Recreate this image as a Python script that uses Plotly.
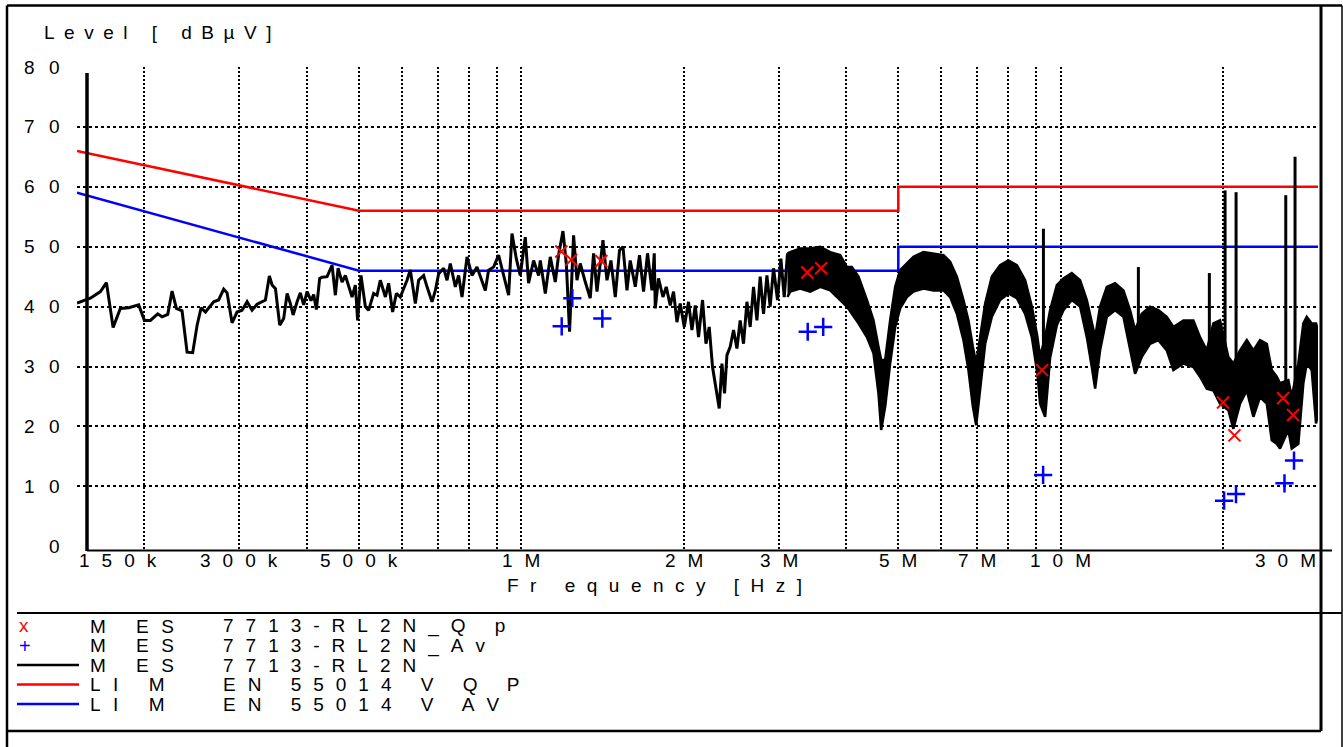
import math
import plotly.graph_objects as go

# ---------------- data (frequency in MHz, level in dBuV) ----------------
scan_f = [0.1500, 0.1588, 0.1658, 0.1701, 0.1750, 0.1805, 0.1871, 0.1952, 0.2000, 0.2052,
          0.2117, 0.2157, 0.2210, 0.2251, 0.2293, 0.2349, 0.2400, 0.2458, 0.2505, 0.2548,
          0.2596, 0.2689, 0.2746, 0.2806, 0.2847, 0.2908, 0.2971, 0.3035, 0.3101, 0.3167,
          0.3236, 0.3305, 0.3353, 0.3410, 0.3450, 0.3500, 0.3564, 0.3625, 0.3679, 0.3730,
          0.3774, 0.3839, 0.3892, 0.3948, 0.4006, 0.4074, 0.4120, 0.4168, 0.4227, 0.4270,
          0.4363, 0.4457, 0.4520, 0.4573, 0.4651, 0.4717, 0.4784, 0.4854, 0.4923, 0.4971,
          0.5043, 0.5138, 0.5210, 0.5323, 0.5400, 0.5476, 0.5596, 0.5674, 0.5772, 0.5864,
          0.5964, 0.6050, 0.6138, 0.6224, 0.6360, 0.6449, 0.6589, 0.6685, 0.6829, 0.6927,
          0.7025, 0.7177, 0.7281, 0.7383, 0.7544, 0.7650, 0.7762, 0.7930, 0.8100, 0.8275,
          0.8391, 0.8574, 0.8695, 0.8883, 0.9074, 0.9271, 0.9470, 0.9608, 0.9787, 0.9953,
          1.0170, 1.0313, 1.0537, 1.0764, 1.0841, 1.1077, 1.1313, 1.1560, 1.1722, 1.1945,
          1.2115, 1.2285, 1.2498, 1.2681, 1.2858, 1.3139, 1.3419, 1.3612, 1.3811, 1.4169,
          1.4413, 1.4659, 1.4933, 1.5207, 1.5432, 1.5698, 1.5917, 1.6264, 1.6561, 1.6850,
          1.7140, 1.7463, 1.7637, 1.7713, 1.7962, 1.8303, 1.8564, 1.8880, 1.9152, 1.9431,
          1.9703, 2.0047, 2.0416, 2.0715, 2.1011, 2.1307, 2.1675, 2.1994, 2.2302, 2.2620,
          2.2952, 2.3274, 2.3544, 2.3809, 2.4054, 2.4390, 2.4741, 2.5102, 2.5453, 2.5819,
          2.6197, 2.6563, 2.6945, 2.7339, 2.7722, 2.8121, 2.8531, 2.8929, 2.9346, 2.9851,
          3.0284, 3.0718, 3.1152]
scan_lv = [40.6, 41.4, 42.5, 44.0, 36.5, 39.7, 39.8, 40.3, 37.7, 37.7,
           38.8, 38.3, 38.7, 42.6, 39.7, 39.3, 32.4, 32.3, 36.9, 39.8,
           39.1, 40.8, 41.1, 42.9, 42.3, 37.3, 39.1, 39.4, 40.8, 39.4,
           40.4, 40.8, 41.1, 45.1, 43.6, 43.0, 36.9, 38.0, 42.2, 40.5,
           38.6, 40.8, 42.3, 40.3, 42.5, 41.0, 42.0, 39.5, 44.7, 44.9,
           45.0, 46.9, 41.9, 46.4, 44.1, 45.2, 43.3, 41.6, 43.6, 37.7,
           45.2, 40.0, 39.4, 42.2, 41.9, 44.4, 41.6, 43.9, 39.1, 42.2,
           41.6, 43.0, 44.4, 46.1, 40.5, 44.4, 45.2, 43.3, 40.8, 42.7,
           45.5, 46.4, 44.4, 47.2, 43.3, 45.2, 41.6, 48.3, 45.2, 46.6,
           45.2, 42.7, 46.1, 46.6, 48.6, 45.0, 41.9, 52.2, 48.0, 45.2,
           51.6, 43.9, 47.7, 45.2, 47.7, 42.2, 48.3, 44.1, 48.6, 52.6,
           47.2, 35.8, 51.9, 44.4, 47.2, 44.1, 41.4, 48.9, 42.5, 51.1,
           44.4, 47.7, 41.6, 49.4, 50.0, 42.7, 47.7, 43.3, 48.6, 42.5,
           48.9, 42.7, 48.9, 39.7, 44.7, 41.6, 43.3, 40.2, 42.5, 37.4,
           40.5, 36.6, 40.8, 36.1, 40.2, 34.9, 41.1, 33.8, 36.6, 29.9,
           26.0, 23.0, 30.5, 25.5, 31.9, 33.3, 36.1, 33.0, 37.7, 33.8,
           40.8, 36.6, 43.3, 37.7, 45.0, 38.8, 45.2, 40.0, 46.4, 41.1,
           48.0, 41.6, 48.9]

band_f = [3.1152, 3.1507, 3.2882, 3.4319, 3.5813, 3.7375, 3.9003, 4.0143, 4.1006, 4.2178,
          4.3720, 4.4970, 4.5936, 4.6467, 4.7274, 4.8282, 4.9336, 5.0389, 5.1860, 5.3341,
          5.5666, 5.8092, 6.0627, 6.2374, 6.4196, 6.6031, 6.7453, 6.8737, 6.9714, 7.0899,
          7.2445, 7.4536, 7.7209, 8.0004, 8.2933, 8.5924, 8.8407, 9.0550, 9.1582, 9.3580,
          9.5577, 9.8369, 10.118, 10.487, 10.864, 11.181, 11.421, 11.585, 11.832, 12.177,
          12.616, 13.071, 13.447, 13.741, 14.138, 14.646, 15.176, 15.731, 16.181, 16.886,
          17.622, 18.129, 18.659, 19.192, 19.745, 20.460, 20.903, 21.507, 22.135, 22.767,
          23.422, 24.106, 24.623, 25.156, 25.508, 26.431, 26.817, 27.583, 28.180, 28.592,
          29.206, 29.748, 30.0]
band_top = [48.9, 49.1, 49.7, 49.7, 50.0, 49.1, 48.6, 46.6, 46.6, 45.0,
            41.1, 37.7, 33.3, 31.1, 31.1, 37.7, 43.3, 46.1, 47.2, 48.3,
            49.1, 48.9, 48.6, 47.5, 45.0, 41.1, 37.7, 33.3, 30.5, 34.9,
            40.5, 45.0, 46.9, 47.7, 46.9, 44.4, 40.0, 34.9, 31.6, 34.9,
            39.4, 43.6, 44.7, 45.6, 44.4, 41.1, 37.2, 34.9, 40.0, 43.3,
            43.9, 42.7, 39.4, 36.1, 38.8, 40.0, 39.4, 38.3, 36.6, 37.7,
            37.7, 34.9, 32.7, 37.2, 37.7, 31.6, 30.5, 32.7, 34.4, 32.7,
            34.4, 33.8, 29.4, 28.3, 27.2, 27.7, 24.9, 30.5, 37.2, 38.3,
            37.2, 37.2, 36.0]
band_bot = [41.6, 42.5, 43.0, 42.5, 43.3, 42.7, 41.1, 40.0, 38.8, 37.2,
            34.9, 32.2, 25.5, 19.4, 23.3, 30.5, 36.6, 39.7, 41.6, 42.5,
            43.0, 42.7, 42.7, 41.6, 38.8, 34.4, 29.4, 23.3, 20.2, 26.6,
            33.8, 38.3, 41.1, 42.2, 41.4, 38.8, 34.9, 28.8, 23.8, 21.6,
            31.4, 36.9, 39.4, 41.1, 40.0, 34.9, 29.9, 26.3, 32.7, 38.3,
            39.4, 38.3, 32.7, 28.8, 31.6, 33.8, 34.4, 32.7, 29.4, 30.5,
            29.9, 28.3, 26.3, 26.0, 23.8, 22.7, 19.6, 23.8, 26.0, 21.6,
            24.9, 23.8, 17.7, 17.1, 16.3, 19.4, 16.3, 17.1, 27.2, 30.5,
            29.4, 20.5, 22.0]

spike_f = [9.290, 13.934, 18.865, 20.176, 21.146, 26.142, 27.200]
spike_top = [53.0, 46.6, 45.6, 59.4, 59.1, 58.6, 65.0]
spike_base = [24.0, 33.0, 30.0, 25.0, 25.0, 22.0, 20.0]

qp_f = [1.186, 1.237, 1.407, 3.389, 3.597, 9.238, 20.00, 21.00, 25.84, 26.97]
qp_lv = [49.2, 47.8, 47.6, 45.7, 46.4, 29.4, 24.0, 18.5, 24.7, 21.9]
av_f = [1.188, 1.243, 1.413, 3.396, 3.628, 9.278, 20.09, 21.14, 26.00, 27.08]
av_lv = [36.7, 41.4, 38.0, 35.8, 36.6, 11.9, 7.6, 8.7, 10.5, 14.3]

lim_f = [0.15, 0.5, 5.0, 5.0, 30.0]
lim_qp = [66, 56, 56, 60, 60]
lim_av = [59, 46, 46, 50, 50]

x_tick_f = [0.15, 0.3, 0.5, 1, 2, 3, 5, 7, 10, 30]
x_tick_text = ["150k", "300k", "500k", "1M", "2M", "3M", "5M", "7M", "10M", "30M"]
x_grid_f = [0.2, 0.3, 0.4, 0.5, 0.6, 0.7, 0.8, 0.9, 1, 2, 3, 4, 5, 6, 7, 8, 9, 10, 20, 30]
y_ticks = [0, 10, 20, 30, 40, 50, 60, 70, 80]

legend_col1 = ["M ES", "M ES", "M ES", "LI M", "LI M"]
legend_col2 = ["7713-RL2N_Q p", "7713-RL2N_Av", "7713-RL2N", "EN 55014 V Q P", "EN 55014 V AV"]

# ---------------- layout helpers ----------------
W, H = 1343, 747
ML, MR, MT, MB = 77, 25, 67, 196
PW, PH = W - ML - MR, H - MT - MB


def PX(x):
    return (x - ML) / PW


def PY(y):
    return (H - MB - y) / PH


FONT = "Liberation Sans, Arial, sans-serif"
RED, BLUE, BLACK = "#ff0000", "#0000ff", "#000000"


def sp(s, ls=12.5):
    return '<span style="letter-spacing:%spx">%s</span>%s' % (ls, s[:-1], s[-1])


fig = go.Figure()

# limit lines
fig.add_trace(go.Scatter(x=lim_f, y=lim_qp, mode="lines", line=dict(color=RED, width=2.5),
                         name="LIM EN 55014 V QP", hoverinfo="skip"))
fig.add_trace(go.Scatter(x=lim_f, y=lim_av, mode="lines", line=dict(color=BLUE, width=2.5),
                         name="LIM EN 55014 V AV", hoverinfo="skip"))

# measurement: dense band region (envelope polygon)
fig.add_trace(go.Scatter(x=band_f + band_f[::-1], y=band_top + band_bot[::-1], mode="lines",
                         fill="toself", fillcolor=BLACK, line=dict(color=BLACK, width=2.5),
                         name="MES 7713-RL2N band", hoverinfo="skip"))
# measurement: individual scan
fig.add_trace(go.Scatter(x=scan_f, y=scan_lv, mode="lines", line=dict(color=BLACK, width=3),
                         name="MES 7713-RL2N"))
# narrow spikes
sx, sy = [], []
for f, t, b in zip(spike_f, spike_top, spike_base):
    sx += [f, f, None]
    sy += [b, t, None]
fig.add_trace(go.Scatter(x=sx, y=sy, mode="lines", line=dict(color=BLACK, width=3),
                         name="MES spikes", hoverinfo="skip"))

# final measurement markers
fig.add_trace(go.Scatter(x=qp_f, y=qp_lv, mode="markers", name="MES 7713-RL2N_Qp",
                         marker=dict(symbol="x-thin", size=12, line=dict(color=RED, width=2))))
fig.add_trace(go.Scatter(x=av_f, y=av_lv, mode="markers", name="MES 7713-RL2N_Av",
                         marker=dict(symbol="cross-thin", size=13, line=dict(color=BLUE, width=2.5))))

fig.update_layout(
    width=W, height=H, margin=dict(l=ML, r=MR, t=MT, b=MB, pad=0),
    paper_bgcolor="white", plot_bgcolor="white", showlegend=False,
    font=dict(family=FONT, size=19, color=BLACK),
    xaxis=dict(type="log", range=[math.log10(0.15), math.log10(30)], tickvals=x_grid_f,
               showticklabels=False, ticks="", showgrid=True, gridcolor=BLACK, gridwidth=2,
               griddash="2px,2px", zeroline=False, showline=False, fixedrange=True),
    yaxis=dict(range=[-0.8, 80], tickvals=y_ticks[1:], showticklabels=False, ticks="",
               showgrid=True, gridcolor=BLACK, gridwidth=2, griddash="3px,3px",
               zeroline=False, showline=False, fixedrange=True),
)

ann = []
# x tick labels
for i, (f, t) in enumerate(zip(x_tick_f, x_tick_text)):
    anchor = "left" if i == 0 else ("right" if i == len(x_tick_f) - 1 else "center")
    ann.append(dict(x=math.log10(f), xref="x", y=PY(560), yref="paper", text=sp(t, 12),
                    showarrow=False, xanchor=anchor, yanchor="middle"))
# y tick labels
for v in y_ticks:
    ann.append(dict(x=PX(62), xref="paper", y=v, yref="y", text=sp(str(v), 14.5),
                    showarrow=False, xanchor="right", yanchor="middle"))
# axis titles
ann.append(dict(x=PX(42), xref="paper", y=PY(33), yref="paper", text=sp("Level [ dBµV]", 9.5),
                showarrow=False, xanchor="left", yanchor="middle"))
ann.append(dict(x=PX(505), xref="paper", y=PY(585), yref="paper", text=sp("Fr equency [Hz]", 11.5),
                showarrow=False, xanchor="left", yanchor="middle"))

# legend block
row_y = [626, 645.5, 665, 684.5, 704]
ann.append(dict(x=PX(24), xref="paper", y=PY(row_y[0] - 1), yref="paper", text="x",
                font=dict(color=RED, size=19), showarrow=False, xanchor="center", yanchor="middle"))
ann.append(dict(x=PX(25), xref="paper", y=PY(row_y[1]), yref="paper", text="+",
                font=dict(color=BLUE, size=20), showarrow=False, xanchor="center", yanchor="middle"))
for ry, c1, c2 in zip(row_y, legend_col1, legend_col2):
    ann.append(dict(x=PX(88), xref="paper", y=PY(ry), yref="paper", text=sp(c1, 12.5),
                    showarrow=False, xanchor="left", yanchor="middle"))
    ann.append(dict(x=PX(221), xref="paper", y=PY(ry), yref="paper", text=sp(c2, 12),
                    showarrow=False, xanchor="left", yanchor="middle"))

shapes = []


def seg(x0, y0, x1, y1, w, c=BLACK):
    shapes.append(dict(type="line", xref="paper", yref="paper", x0=PX(x0), y0=PY(y0),
                       x1=PX(x1), y1=PY(y1), line=dict(color=c, width=w), layer="above"))


# legend line samples
for ry, c in zip(row_y[2:], [BLACK, RED, BLUE]):
    seg(17, ry, 79, ry, 2.5, c)

# page frame
seg(7, 5.5, 7, 760, 2.5)
seg(7, 5.5, 1342, 5.5, 2.5)
seg(1342, 5.5, 1342, 760, 1.5)
seg(1321, 5.5, 1321, 731, 3)
seg(17, 613, 1342, 613, 2)
seg(7, 731, 1321, 731, 2.5)
# axis lines
seg(87, 73, 87, 551, 3.5)
seg(87, 550.5, 1332, 550.5, 2)

fig.update_layout(annotations=ann, shapes=shapes)
fig.write_html("out.html", config={"displayModeBar": False},
               post_script="document.body.style.margin='0px';")
